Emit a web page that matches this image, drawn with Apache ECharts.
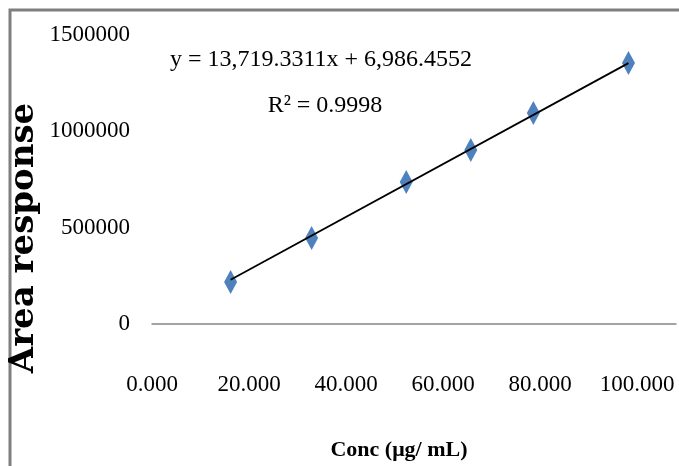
<!DOCTYPE html>
<html><head><meta charset="utf-8">
<script src="https://cdn.jsdelivr.net/npm/echarts@6/dist/echarts.min.js"></script>
<style>html,body{margin:0;padding:0;background:#fff}#c{width:679px;height:466px}</style>
</head><body><div id="c"></div><script>
const concentrations = [16.2, 32.9, 52.4, 65.7, 78.6, 98.2];
const areaResponses = [218000, 446000, 737000, 903000, 1095000, 1355000];
const xTickValues = [0, 20, 40, 60, 80, 100];
const yTickValues = [0, 500000, 1000000, 1500000];
const slope = 13719.3311;
const intercept = 6986.4552;
const equationText = 'y = 13,719.3311x + 6,986.4552';
const r2Text = 'R\u00b2 = 0.9998';
const xAxisTitle = 'Conc (\u03bcg/ mL)';
const yAxisTitle = 'Area response';

const points = concentrations.map((x, i) => [x, areaResponses[i]]);
const xMin = Math.min(...concentrations), xMax = Math.max(...concentrations);
const trend = [[xMin, slope * xMin + intercept], [xMax, slope * xMax + intercept]];
const serif = 'Liberation Serif';

const chart = echarts.init(document.getElementById('c'));
chart.setOption({
  animation: false,
  backgroundColor: '#fff',
  grid: { left: 152, right: 1, top: 35, bottom: 142 },
  xAxis: {
    type: 'value', min: 0, max: 108, interval: 20,
    axisLine: { show: true, lineStyle: { color: '#878787', width: 1.5 } },
    axisTick: { show: false }, splitLine: { show: false },
    axisLabel: {
      margin: 49, fontSize: 23, fontFamily: serif, color: '#000',
      formatter: v => xTickValues.includes(v) ? v.toFixed(3) : ''
    }
  },
  yAxis: {
    type: 'value', min: 0, max: 1500000, interval: 500000,
    axisLine: { show: false }, axisTick: { show: false }, splitLine: { show: false },
    axisLabel: {
      margin: 22, fontSize: 23, fontFamily: serif, color: '#000',
      formatter: v => yTickValues.includes(v) ? String(v) : ''
    }
  },
  series: [
    {
      type: 'scatter', data: points, symbol: 'diamond', symbolSize: [13, 24],
      itemStyle: { color: '#4F81BD', opacity: 1 }, z: 2
    },
    {
      type: 'line', data: trend, showSymbol: false, symbol: 'none',
      lineStyle: { color: '#000', width: 1.8 }, z: 3, silent: true
    }
  ],
  graphic: [
    { type: 'rect', shape: { x: 10, y: 10, width: 720, height: 520 },
      style: { fill: 'none', stroke: '#7f7f7f', lineWidth: 3 }, silent: true },
    { type: 'text', x: 24, y: 238, rotation: Math.PI / 2,
      style: { text: yAxisTitle, fontFamily: 'DejaVu Serif', fontWeight: 'bold', fontSize: 34, fill: '#000', align: 'center', verticalAlign: 'middle' } },
    { type: 'text', x: 399, y: 450,
      style: { text: xAxisTitle, fontFamily: serif, fontWeight: 'bold', fontSize: 22, fill: '#000', align: 'center', verticalAlign: 'middle' } },
    { type: 'text', x: 321, y: 60,
      style: { text: equationText, fontFamily: serif, fontSize: 24, fill: '#000', align: 'center', verticalAlign: 'middle' } },
    { type: 'text', x: 325, y: 106,
      style: { text: r2Text, fontFamily: serif, fontSize: 24, fill: '#000', align: 'center', verticalAlign: 'middle' } }
  ]
});
</script></body></html>
